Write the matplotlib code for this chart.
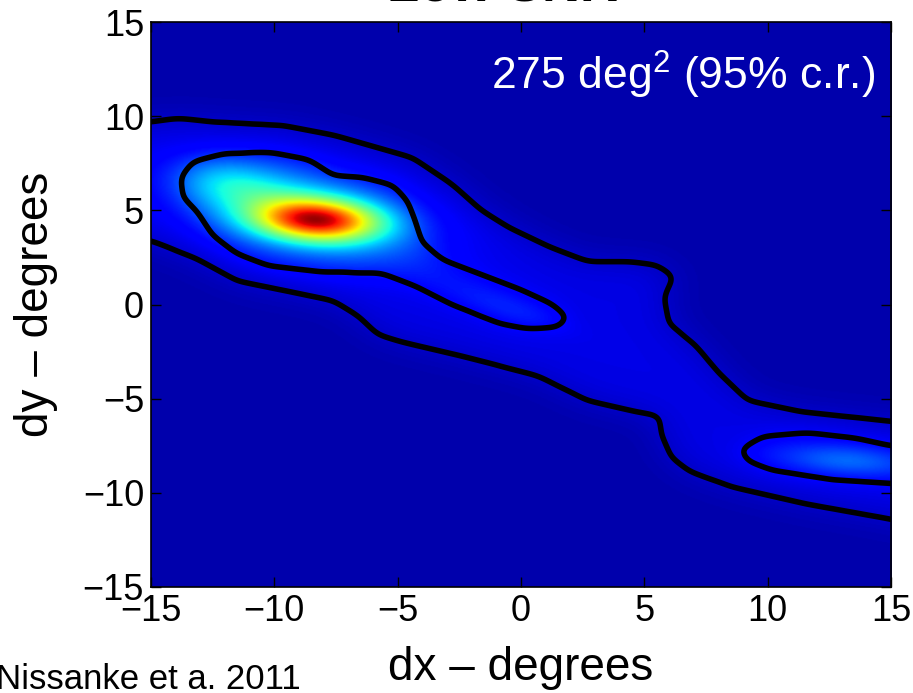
import numpy as np
import matplotlib
matplotlib.use('Agg')
import matplotlib.pyplot as plt
from matplotlib.path import Path

plt.rcParams['font.family'] = ['Liberation Sans', 'DejaVu Sans']
plt.rcParams['mathtext.fontset'] = 'custom'
plt.rcParams['mathtext.rm'] = 'Liberation Sans'

# 95% contour (degrees); upper edge left->right, lower edge back
outer_x = [-18.0, -15.0, -13.9, -12.5, -9.6, -7.6, -6.0, -4.4, -2.8, -1.6, -0.5, 1.1, 2.7,
           4.3, 5.5, 6.2, 5.8, 6.0, 7.1, 8.0, 9.2, 11.4, 15.0, 18.0,
           18.0, 15.0, 11.6, 8.6, 6.9, 6.1, 5.7, 5.6, 4.7, 2.7, 0.7, -2.2, -4.8, -5.8,
           -6.6, -7.6, -10.0, -11.5, -13.1, -15.0, -18.0]
outer_y = [9.7, 9.7, 9.9, 9.7, 9.5, 9.0, 8.4, 7.8, 6.4, 5.0, 4.1, 3.1, 2.3,
           2.3, 2.1, 1.5, 0.4, -1.0, -2.2, -3.6, -5.1, -5.7, -6.2, -6.6,
           -12.2, -11.4, -10.6, -9.7, -8.9, -8.1, -6.9, -5.9, -5.7, -5.1, -3.8, -2.8, -2.0, -1.6,
           -0.6, 0.2, 0.85, 1.25, 2.4, 3.4, 3.9]

# inner contour, upper-left island
inner1_x = [-13.8, -13.3, -12.1, -10.2, -8.6, -7.6, -6.4, -5.2, -4.6, -4.3, -4.0, -3.2,
            -1.6, -0.1, 1.3, 1.9, 1.5, 0.3, -0.9, -2.8, -4.4, -5.6, -8.2, -10.2, -11.5,
            -12.5, -13.1, -13.7]
inner1_y = [6.75, 7.6, 8.0, 8.1, 7.7, 6.85, 6.75, 6.35, 5.5, 4.5, 3.3, 2.4,
            1.6, 0.85, 0.0, -0.7, -1.2, -1.3, -1.0, 0.0, 1.05, 1.65, 1.75, 2.05, 2.7,
            3.7, 4.9, 5.7]

# inner contour, lower-right island
inner2_x = [8.9, 9.8, 11.6, 13.6, 15.0, 18.0, 18.0, 15.0, 12.6, 10.2, 9.2]
inner2_y = [-7.7, -7.0, -6.8, -7.1, -7.5, -7.7, -9.8, -9.5, -9.3, -8.8, -8.3]

# bright spots: centre, widths, tilt (deg), height on the colour scale
spot_x = [-8.3, -8.8, -11.8, 13.2, -0.5]
spot_y = [4.5, 4.8, 6.4, -8.3, -0.2]
spot_sx = [1.7, 3.0, 1.6, 1.8, 1.8]
spot_sy = [0.75, 1.4, 0.9, 0.55, 0.5]
spot_tilt = [-4, -16, -12, -5, -25]
spot_amp = [0.6, 0.25, 0.13, 0.1, 0.03]

level_base = 0.04
level_outer = 0.05
level_inner = 0.04

step = 0.05
xs = np.arange(-18, 18 + step / 2, step)
X, Y = np.meshgrid(xs, xs)
pts = np.column_stack([X.ravel(), Y.ravel()])


def mask(px, py):
    inside = Path(np.column_stack([px, py])).contains_points(pts)
    return inside.reshape(X.shape).astype(float)


def blur(a, sigma):
    n = int(3 * sigma / step)
    k = np.exp(-0.5 * (np.arange(-n, n + 1) * step / sigma) ** 2)
    k /= k.sum()
    a = np.apply_along_axis(lambda r: np.convolve(r, k, mode='same'), 0, a)
    a = np.apply_along_axis(lambda r: np.convolve(r, k, mode='same'), 1, a)
    return a


m_out = mask(outer_x, outer_y)
m_in = np.maximum(mask(inner1_x, inner1_y), mask(inner2_x, inner2_y))

field = level_base + level_outer * blur(m_out, 0.8) + level_inner * blur(m_in, 0.6)
for cx, cy, sx, sy, t, a in zip(spot_x, spot_y, spot_sx, spot_sy, spot_tilt, spot_amp):
    th = np.radians(t)
    u = (X - cx) * np.cos(th) + (Y - cy) * np.sin(th)
    v = -(X - cx) * np.sin(th) + (Y - cy) * np.cos(th)
    field += a * np.exp(-0.5 * (u ** 2 / sx ** 2 + v ** 2 / sy ** 2))

fig = plt.figure(figsize=(9.13, 6.93), dpi=100)
ax = fig.add_axes([151 / 913, 1 - 587 / 693, 740 / 913, 565 / 693])

ax.imshow(field, extent=[xs[0], xs[-1], xs[0], xs[-1]], origin='lower', cmap='jet',
          vmin=0, vmax=1, interpolation='bilinear', aspect='auto')
ax.contour(X, Y, blur(m_out, 0.25), levels=[0.5], colors='k', linewidths=4)
ax.contour(X, Y, blur(m_in, 0.25), levels=[0.5], colors='k', linewidths=4)

ax.set_xlim(-15, 15)
ax.set_ylim(-15, 15)
ax.set_xticks(np.arange(-15, 16, 5))
ax.set_yticks(np.arange(-15, 16, 5))
ax.tick_params(direction='in', top=True, right=True, length=7, width=1,
               labelsize=26, pad=5)
for s in ax.spines.values():
    s.set_linewidth(1.2)

ax.text(0.979, 0.881, r'275 deg$^\mathrm{2}$ (95% c.r.)', transform=ax.transAxes,
        ha='right', va='baseline', color='white', fontsize=32)

fig.text(36 / 913, 1 - 304.5 / 693, 'dy – degrees', rotation=90, ha='center', va='center',
         fontsize=33)
fig.text(521 / 913, 0.019, 'dx – degrees', ha='center', va='baseline', fontsize=33)
fig.text(-0.004, 0.006, 'Nissanke et a. 2011', ha='left', va='baseline', fontsize=25)
fig.text(502 / 913, 1 - 2 / 693, 'Low SNR', ha='center', va='baseline', fontsize=38,
         fontweight='bold')

fig.savefig('out.png', dpi=100)
